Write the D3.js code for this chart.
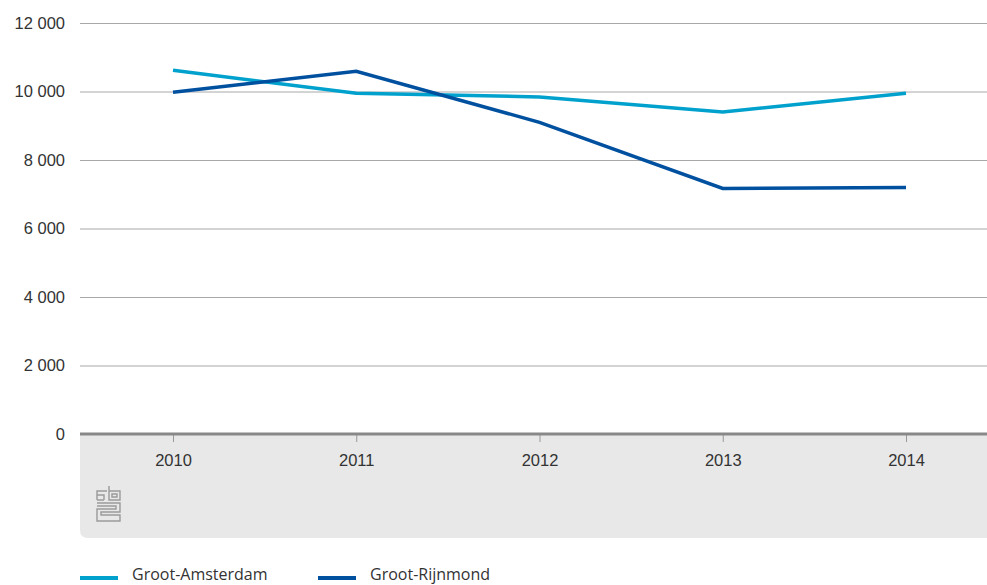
<!DOCTYPE html>
<html>
<head>
<meta charset="utf-8">
<script src="https://cdn.jsdelivr.net/npm/d3@7"></script>
<style>
  body { margin: 0; background: #fff; }
  svg { display: block; font-family: "Open Sans", "Noto Sans", sans-serif; }
</style>
</head>
<body>
<svg width="987" height="585"></svg>
<script>
const years = [2010, 2011, 2012, 2013, 2014];
const amsterdam = [10620, 9950, 9840, 9400, 9950];
const rijnmond = [9980, 10590, 9100, 7170, 7200];
const yTicks = [0, 2000, 4000, 6000, 8000, 10000, 12000];
const seriesNames = ["Groot-Amsterdam", "Groot-Rijnmond"];
const colors = ["#00a1cd", "#0050a0"];

const svg = d3.select("svg");
const [LEFT, RIGHT] = [80, 987];
const [TOP, BOTTOM] = [23, 434];

const x = d3.scalePoint().domain(years).range([173, 906]);
const y = d3.scaleLinear().domain([0, 12000]).range([BOTTOM, TOP]);

// grey band under the axis
svg.append("path")
  .attr("d", `M${LEFT},${BOTTOM} H${RIGHT} V538 H${LEFT + 8} Q${LEFT},538 ${LEFT},530 Z`)
  .attr("fill", "#e8e8e8");

// gridlines + y labels
const fmt = (v) => d3.format(",")(v).replace(",", " ");
const yAxis = svg.append("g").attr("transform", `translate(${LEFT},0)`)
  .call(d3.axisLeft(y).tickValues(yTicks).tickFormat(fmt).tickSize(-(RIGHT - LEFT)).tickPadding(15));
yAxis.select(".domain").remove();
yAxis.selectAll(".tick line").attr("stroke", "#a8a8a8");
yAxis.selectAll(".tick text").attr("fill", "#333").attr("font-size", 16.5);

// x axis
const xAxis = svg.append("g").attr("transform", `translate(0,${BOTTOM})`)
  .call(d3.axisBottom(x).tickSize(8).tickPadding(12));
xAxis.select(".domain").remove();
xAxis.selectAll(".tick line").attr("stroke", "#999");
xAxis.selectAll(".tick text").attr("fill", "#333").attr("font-size", 16.5);
svg.append("line")
  .attr("x1", LEFT).attr("x2", RIGHT).attr("y1", BOTTOM).attr("y2", BOTTOM)
  .attr("stroke", "#888").attr("stroke-width", 3);

// lines
const line = d3.line().x((d, i) => x(years[i])).y((d) => y(d));
[amsterdam, rijnmond].forEach((vals, i) => {
  svg.append("path")
    .datum(vals)
    .attr("d", line)
    .attr("fill", "none")
    .attr("stroke", colors[i])
    .attr("stroke-width", 3.5);
});

// cbs logo
const logo = svg.append("g").attr("transform", "translate(96,486)")
  .attr("fill", "none").attr("stroke", "#9a9a9a").attr("stroke-width", 1.4);
logo.append("path").attr("d", "M1,14 V5 H11 M1,9 H8 V14 M1,14 H8");
logo.append("path").attr("d", "M13,0 V14 H24 V5 H13 M16,8 H21 V11 H16 Z");
logo.append("path").attr("d", "M1,17 H24 V26 H5 V29 H24 V35 H1 V23 H20 V20 H1");

// legend
const legend = svg.append("g").attr("transform", "translate(0,576)");
[80, 318].forEach((lx, i) => {
  legend.append("line")
    .attr("x1", lx).attr("x2", lx + 38).attr("y1", 2).attr("y2", 2)
    .attr("stroke", colors[i]).attr("stroke-width", 4);
  legend.append("text")
    .attr("x", lx + 52).attr("y", 4)
    .attr("font-size", 16).attr("fill", "#333")
    .text(seriesNames[i]);
});
</script>
</body>
</html>
